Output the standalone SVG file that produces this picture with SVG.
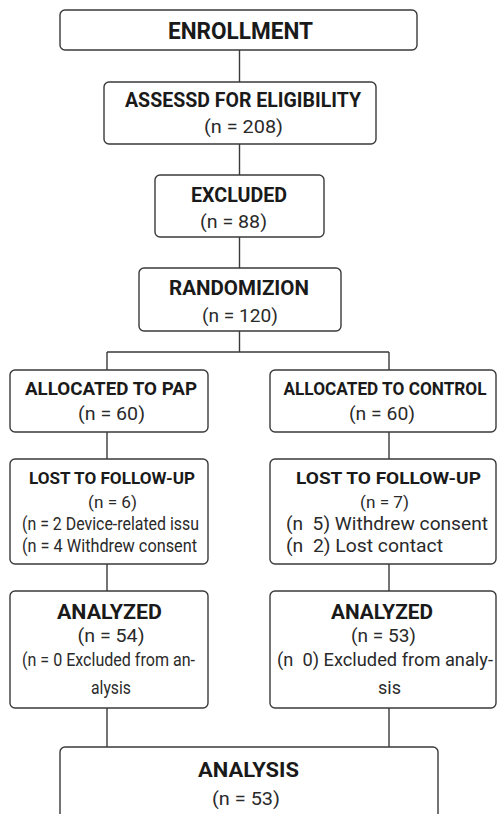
<svg xmlns="http://www.w3.org/2000/svg" width="497" height="814" viewBox="0 0 497 814">
<style>
.box{fill:#fff;stroke:#3a3a3a;stroke-width:1.4}
.ln{fill:none;stroke:#3a3a3a;stroke-width:1.4}
text{font-family:Roboto,"Liberation Sans",sans-serif;fill:#1a1a1a;white-space:pre}
.t{font-weight:700;text-anchor:middle}
.b{font-weight:400;text-anchor:middle;fill:#2a2a2a}
.l{font-weight:400;text-anchor:start;fill:#2a2a2a}
</style>
<rect width="497" height="814" fill="#fff"/>
<g id="connectors">
<path class="ln" d="M239.5 50V82M239.5 144V175M239.5 237V268M239.5 331V352M107 352H389M107 352V370M389 352V370M107 432V459M389 432V459M107 564V591M389 564V591M107 708V747M389 708V747"/>
</g>
<g id="enrollment">
<rect class="box" x="60" y="10" width="357" height="40" rx="5"/>
<text class="t" x="240.5" y="39" font-size="23" textLength="145" lengthAdjust="spacingAndGlyphs">ENROLLMENT</text>
</g>
<g id="assessed">
<rect class="box" x="104" y="82" width="272" height="62" rx="5"/>
<text class="t" x="243" y="107" font-size="20" textLength="236" lengthAdjust="spacingAndGlyphs">ASSESSD FOR ELIGIBILITY</text>
<text class="b" x="243.5" y="133" font-size="19" textLength="79" lengthAdjust="spacingAndGlyphs">(n = 208)</text>
</g>
<g id="excluded">
<rect class="box" x="155" y="175" width="169" height="62" rx="5"/>
<text class="t" x="239" y="202" font-size="20" textLength="96" lengthAdjust="spacingAndGlyphs">EXCLUDED</text>
<text class="b" x="233.5" y="228" font-size="19" textLength="67" lengthAdjust="spacingAndGlyphs">(n = 88)</text>
</g>
<g id="randomization">
<rect class="box" x="139" y="268" width="202" height="63" rx="5"/>
<text class="t" x="239" y="295" font-size="20" textLength="140" lengthAdjust="spacingAndGlyphs">RANDOMIZION</text>
<text class="b" x="240" y="321.5" font-size="19" textLength="76" lengthAdjust="spacingAndGlyphs">(n = 120)</text>
</g>
<g id="allocated-pap">
<rect class="box" x="10" y="370" width="198" height="62" rx="5"/>
<text class="t" x="111" y="395" font-size="19" textLength="172" lengthAdjust="spacingAndGlyphs">ALLOCATED TO PAP</text>
<text class="b" x="111.5" y="419.5" font-size="19" textLength="67" lengthAdjust="spacingAndGlyphs">(n = 60)</text>
</g>
<g id="allocated-control">
<rect class="box" x="270" y="370" width="226" height="62" rx="5"/>
<text class="t" x="385" y="395" font-size="18" textLength="203" lengthAdjust="spacingAndGlyphs">ALLOCATED TO CONTROL</text>
<text class="b" x="382" y="419.5" font-size="19" textLength="66" lengthAdjust="spacingAndGlyphs">(n = 60)</text>
</g>
<g id="lost-pap">
<rect class="box" x="10" y="459" width="198" height="105" rx="5"/>
<text class="t" x="112" y="484" font-size="17" textLength="166" lengthAdjust="spacingAndGlyphs">LOST TO FOLLOW-UP</text>
<text class="b" x="112.5" y="507.5" font-size="17" textLength="49" lengthAdjust="spacingAndGlyphs">(n = 6)</text>
<text class="l" x="22" y="530" font-size="17.5" textLength="177" lengthAdjust="spacingAndGlyphs">(n = 2 Device-related issu</text>
<text class="l" x="22" y="552" font-size="17.5" textLength="175" lengthAdjust="spacingAndGlyphs">(n = 4 Withdrew consent</text>
</g>
<g id="lost-control">
<rect class="box" x="270" y="459" width="226" height="105" rx="5"/>
<text class="t" x="388.5" y="484" font-size="17" textLength="185" lengthAdjust="spacingAndGlyphs">LOST TO FOLLOW-UP</text>
<text class="b" x="384.5" y="508" font-size="17" textLength="49" lengthAdjust="spacingAndGlyphs">(n = 7)</text>
<text class="l" x="286" y="530" font-size="18" textLength="202" lengthAdjust="spacingAndGlyphs">(n  5) Withdrew consent</text>
<text class="l" x="286" y="552" font-size="18" textLength="157" lengthAdjust="spacingAndGlyphs">(n  2) Lost contact</text>
</g>
<g id="analyzed-pap">
<rect class="box" x="10" y="591" width="198" height="117" rx="5"/>
<text class="t" x="109.5" y="619" font-size="20" textLength="105" lengthAdjust="spacingAndGlyphs">ANALYZED</text>
<text class="b" x="111" y="642" font-size="19" textLength="67" lengthAdjust="spacingAndGlyphs">(n = 54)</text>
<text class="b" x="108.5" y="666" font-size="18" textLength="173" lengthAdjust="spacingAndGlyphs">(n = 0 Excluded from an-</text>
<text class="b" x="111" y="694" font-size="18" textLength="40" lengthAdjust="spacingAndGlyphs">alysis</text>
</g>
<g id="analyzed-control">
<rect class="box" x="270" y="591" width="226" height="117" rx="5"/>
<text class="t" x="382" y="619" font-size="20" textLength="102" lengthAdjust="spacingAndGlyphs">ANALYZED</text>
<text class="b" x="383.5" y="642" font-size="19" textLength="65" lengthAdjust="spacingAndGlyphs">(n = 53)</text>
<text class="b" x="385" y="666" font-size="18" textLength="216" lengthAdjust="spacingAndGlyphs">(n  0) Excluded from analy-</text>
<text class="b" x="389.5" y="694" font-size="18">sis</text>
</g>
<g id="analysis">
<rect class="box" x="60" y="747" width="378" height="72" rx="5"/>
<text class="t" x="248.5" y="777" font-size="21" textLength="101" lengthAdjust="spacingAndGlyphs">ANALYSIS</text>
<text class="b" x="246" y="805" font-size="19" textLength="68" lengthAdjust="spacingAndGlyphs">(n = 53)</text>
</g>
</svg>
